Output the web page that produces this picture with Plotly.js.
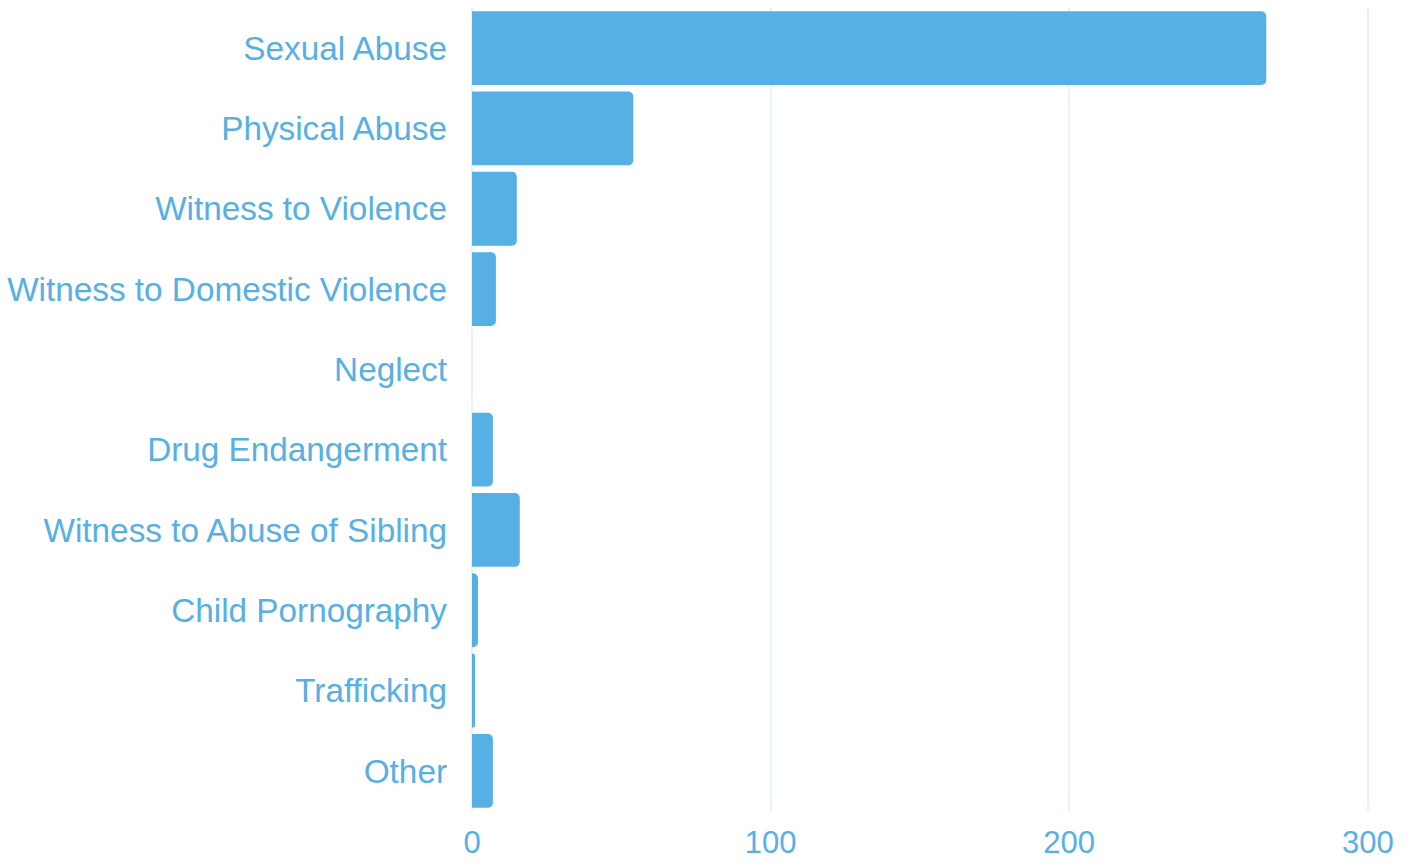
<!DOCTYPE html>
<html>
<head>
<meta charset="utf-8">
<script src="https://cdn.plot.ly/plotly-3.0.1.min.js"></script>
<style>html,body{margin:0;padding:0;background:#fff;}#chart{width:1409px;height:861px;}</style>
</head>
<body>
<div id="chart"></div>
<script>
const categories = ["Sexual Abuse","Physical Abuse","Witness to Violence","Witness to Domestic Violence","Neglect","Drug Endangerment","Witness to Abuse of Sibling","Child Pornography","Trafficking","Other"];
const values = [266, 54, 15, 8, 0, 7, 16, 2, 1, 7];
const tickValues = [0, 100, 200, 300];

const color = '#56B0E4';
Plotly.newPlot('chart', [{
  type: 'bar',
  orientation: 'h',
  y: categories,
  x: values,
  marker: {color: color, line: {width: 0}},
  hoverinfo: 'x+y'
}], {
  width: 1409, height: 861,
  margin: {l: 472, r: 40, t: 8, b: 50},
  paper_bgcolor: '#fff', plot_bgcolor: '#fff',
  bargap: 0.081,
  barcornerradius: 5,
  showlegend: false,
  font: {family: '"Liberation Sans", Arial, sans-serif', size: 33, color: color},
  xaxis: {
    range: [0, 300.4], tickvals: tickValues, ticktext: tickValues.map(String),
    showgrid: true, gridcolor: '#e8f4fc', gridwidth: 1.5,
    zeroline: true, zerolinecolor: '#e8f4fc', zerolinewidth: 1.5,
    showline: false, ticks: '', ticklabelstandoff: 10,
    tickfont: {size: 31, color: color}, fixedrange: true
  },
  yaxis: {
    autorange: 'reversed', showgrid: false, zeroline: false, showline: false,
    ticks: '', ticklabelstandoff: 24,
    tickfont: {size: 33.3, color: color}, fixedrange: true
  }
}, {displayModeBar: false});
</script>
</body>
</html>
